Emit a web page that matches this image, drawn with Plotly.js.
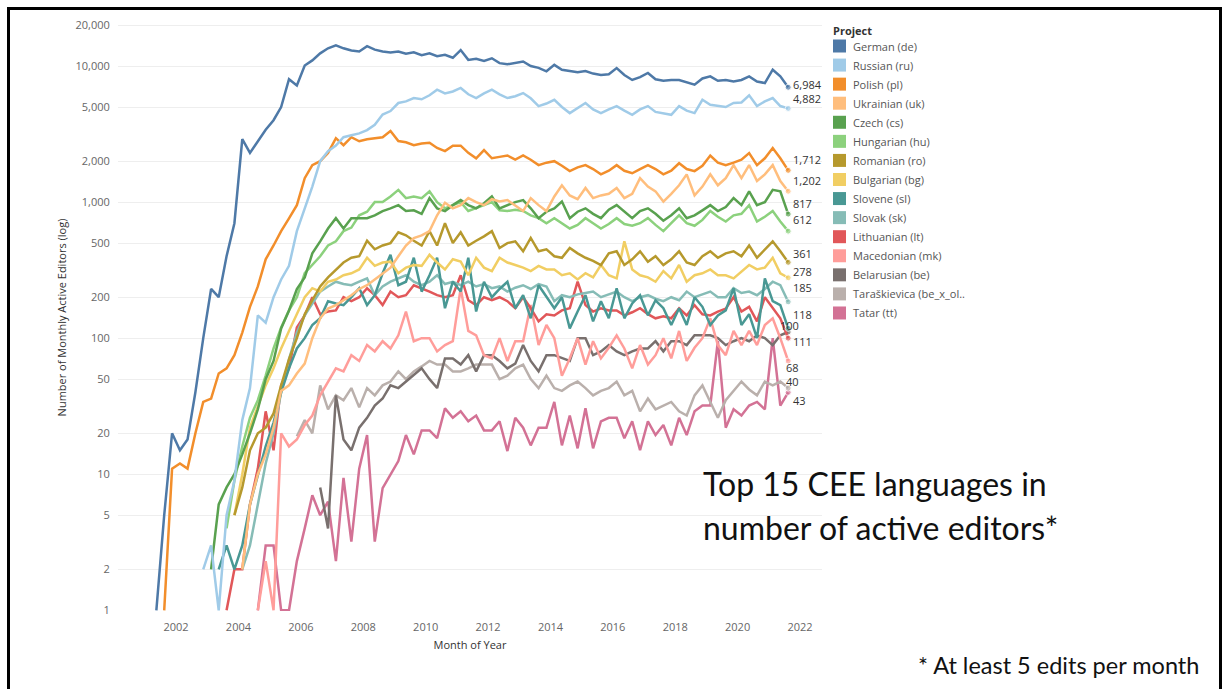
<!DOCTYPE html>
<html>
<head>
<meta charset="utf-8">
<script src="https://cdn.plot.ly/plotly-3.0.1.min.js"></script>
<style>
  html, body { margin: 0; padding: 0; background: #ffffff; }
  #chart { width: 1226px; height: 689px; }
</style>
</head>
<body>
<div id="chart"></div>
<script>
// Monthly active editors (5+ edits/month), sampled every quarter (Feb, May, Aug, Nov).
// Every series ends in August 2021; earlier points step back three months each.
const lastMonth = { year: 2021, month: 8 };

const projects = [
  'German (de)', 'Russian (ru)', 'Polish (pl)', 'Ukrainian (uk)', 'Czech (cs)',
  'Hungarian (hu)', 'Romanian (ro)', 'Bulgarian (bg)', 'Slovene (sl)', 'Slovak (sk)',
  'Lithuanian (lt)', 'Macedonian (mk)', 'Belarusian (be)', 'Taraškievica (be_x_ol..', 'Tatar (tt)'
];

const colors = [
  '#4E79A7', '#A0CBE8', '#F28E2B', '#FFBE7D', '#59A14F',
  '#8CD17D', '#B6992D', '#F1CE63', '#499894', '#86BCB6',
  '#E15759', '#FF9D9A', '#79706E', '#BAB0AC', '#D37295'
];

const germanDe = [
  1, 5, 20,
  15, 18, 40, 100,
  230, 200, 400, 700,
  2900, 2300, 2800, 3400,
  4000, 5000, 8000, 7200,
  10100, 11000, 12400, 13500,
  14200, 13500, 13000, 12800,
  14000, 13200, 12800, 12600,
  12800, 12300, 12600, 12000,
  12400, 11800, 12100, 11500,
  13100, 11100, 11300, 10900,
  11400, 10500, 10300, 10600,
  10800, 10000, 9700, 9150,
  10200, 9400, 9200, 9000,
  9200, 8800, 8600, 8700,
  9660, 8600, 7900, 8300,
  8890, 8000, 7800, 7900,
  7900, 7600, 7300, 8100,
  8400, 7800, 7900, 7700,
  7900, 8400, 7700, 7500,
  9400, 8400, 6984
];

const russianRu = [
  2,
  3, 1, 5, 9,
  25, 43, 147, 130,
  200, 270, 340, 612,
  900, 1300, 2000, 2370,
  2600, 3000, 3100, 3200,
  3380, 3700, 4400, 4670,
  5350, 5500, 5820, 5700,
  6100, 6700, 6300, 6500,
  6900, 6200, 5820, 6300,
  6700, 6200, 5820, 6000,
  6330, 5800, 5080, 5300,
  5650, 5000, 4510, 4900,
  5350, 4800, 4510, 4800,
  5080, 4700, 4380, 4800,
  5080, 4600, 4500, 4380,
  5080, 4700, 4510, 5650,
  5200, 5080, 5000, 5350,
  5400, 6100, 5080, 5500,
  5820, 5080, 4882
];

const polishPl = [
  1, 11,
  12, 11, 20, 34,
  36, 55, 60, 75,
  110, 170, 240, 380,
  480, 612, 760, 950,
  1500, 1870, 2000, 2300,
  2950, 2620, 3000, 2800,
  2900, 2950, 3000, 3330,
  2810, 2750, 2620, 2700,
  2730, 2500, 2370, 2600,
  2600, 2300, 2100, 2410,
  2100, 2150, 2200, 2050,
  2200, 2050, 1870, 1950,
  2000, 1850, 1690, 1800,
  1870, 1750, 1600, 1700,
  1870, 1700, 1630, 1750,
  1870, 1750, 1600, 1700,
  1930, 1750, 1690, 1850,
  2200, 1950, 1870, 1950,
  2050, 2290, 1870, 2100,
  2500, 2100, 1712
];

const ukrainianUk = [
  2, 6, 10, 14,
  22, 41, 45, 55,
  65, 100, 140, 165,
  175, 190, 207, 230,
  245, 270, 300, 330,
  400, 480, 545, 570,
  612, 800, 990, 900,
  950, 1070, 1000, 950,
  1050, 1010, 1035, 950,
  860, 1070, 950, 860,
  1100, 1330, 1120, 1050,
  1270, 1070, 1120, 1150,
  1270, 1070, 1150, 1500,
  1300, 1200, 1010, 1150,
  1330, 1600, 1120, 1300,
  1600, 1330, 1500, 1870,
  1500, 1870, 1430, 1600,
  1870, 1430, 1202
];

const czechCs = [
  2, 6, 8, 10,
  14, 20, 30, 50,
  68, 118, 160, 230,
  280, 420, 515, 640,
  762, 640, 762, 762,
  762, 800, 860, 900,
  950, 860, 870, 820,
  1070, 900, 860, 950,
  1035, 950, 900, 980,
  1100, 900, 950, 1000,
  1035, 900, 762, 850,
  900, 1010, 762, 850,
  900, 820, 762, 880,
  950, 850, 762, 860,
  900, 820, 730, 800,
  900, 762, 800, 870,
  950, 860, 920, 1070,
  950, 1200, 950, 1000,
  1230, 1200, 817
];

const hungarianHu = [
  4, 9,
  16, 26, 35, 53,
  84, 120, 160, 200,
  300, 345, 400, 480,
  515, 612, 650, 800,
  850, 1000, 1000, 1100,
  1230, 1070, 1100, 1070,
  1200, 1000, 900, 950,
  1000, 860, 900, 950,
  1000, 870, 860, 880,
  860, 800, 762, 700,
  762, 700, 640, 680,
  762, 700, 640, 690,
  762, 690, 670, 700,
  762, 680, 612, 700,
  800, 700, 670, 740,
  860, 780, 720, 800,
  820, 950, 720, 780,
  860, 720, 612
];

const romanianRo = [
  5,
  8, 15, 20, 22,
  28, 45, 70, 100,
  150, 190, 240, 280,
  320, 360, 390, 400,
  520, 450, 480, 500,
  600, 570, 520, 480,
  612, 480, 700, 500,
  600, 480, 520, 560,
  612, 460, 500, 515,
  435, 545, 435, 450,
  400, 390, 460, 420,
  390, 370, 345, 420,
  435, 345, 380, 435,
  365, 400, 345, 380,
  435, 360, 345, 400,
  435, 390, 420, 435,
  400, 480, 390, 450,
  515, 435, 361
];

const bulgarianBg = [
  5,
  10, 22, 32, 45,
  60, 84, 113, 150,
  200, 233, 220, 260,
  270, 290, 300, 320,
  390, 340, 360, 365,
  300, 330, 345, 340,
  410, 360, 320, 380,
  365, 290, 390, 330,
  311, 390, 360, 345,
  330, 311, 340, 320,
  320, 290, 300, 270,
  300, 280, 345, 290,
  275, 515, 320, 290,
  280, 260, 311, 275,
  345, 260, 290, 300,
  320, 290, 290, 275,
  310, 345, 320, 330,
  390, 300, 278
];

const sloveneSl = [
  2, 3, 2,
  3, 6, 10, 16,
  24, 40, 60, 84,
  100, 125, 140, 187,
  180, 175, 200, 233,
  175, 207, 300, 410,
  245, 260, 390, 220,
  290, 390, 166, 260,
  220, 390, 157, 260,
  200, 230, 260, 166,
  207, 140, 245, 200,
  166, 200, 118, 157,
  207, 133, 187, 140,
  233, 140, 180, 207,
  147, 190, 166, 125,
  166, 125, 200, 170,
  125, 147, 160, 233,
  125, 150, 100, 275,
  187, 175, 118
];

const slovakSk = [
  2, 3, 6, 12,
  20, 40, 70, 110,
  147, 180, 220, 240,
  260, 250, 245, 260,
  275, 207, 240, 260,
  275, 290, 260, 245,
  260, 290, 250, 260,
  245, 260, 240, 250,
  233, 240, 220, 235,
  245, 230, 250, 240,
  187, 207, 200, 210,
  215, 220, 200, 210,
  220, 200, 187, 200,
  207, 195, 187, 200,
  190, 220, 200, 210,
  220, 200, 200, 233,
  215, 220, 207, 230,
  260, 245, 185
];

const lithuanianLt = [
  1, 2,
  2, 6, 11, 29,
  15, 45, 60, 120,
  147, 200, 150, 157,
  160, 200, 187, 200,
  233, 207, 175, 220,
  200, 207, 245, 233,
  220, 207, 200, 207,
  290, 190, 175, 200,
  190, 200, 187, 166,
  200, 166, 133, 150,
  147, 160, 166, 260,
  175, 157, 166, 160,
  160, 147, 155, 166,
  150, 140, 145, 140,
  166, 147, 175, 150,
  147, 157, 165, 200,
  157, 170, 133, 200,
  166, 140, 100
];

const macedonianMk = [
  1, 2.3,
  1, 20, 16, 18,
  23, 27, 38, 48,
  60, 57, 75, 68,
  89, 80, 95, 84,
  105, 157, 95, 100,
  100, 80, 89, 95,
  233, 113, 105, 75,
  71, 100, 68, 95,
  95, 175, 89, 125,
  100, 53, 71, 100,
  64, 95, 71, 85,
  105, 84, 60, 89,
  64, 75, 100, 71,
  113, 68, 85, 100,
  140, 89, 75, 113,
  89, 113, 89, 125,
  140, 100, 68
];

const belarusianBe = [
  8, 4,
  38, 18, 15, 22,
  26, 32, 36, 45,
  43, 48, 53, 60,
  50, 43, 71, 71,
  64, 75, 57, 75,
  75, 68, 60, 65,
  89, 68, 57, 75,
  75, 71, 68, 100,
  100, 75, 80, 89,
  80, 75, 80, 84,
  84, 95, 80, 95,
  95, 89, 105, 105,
  105, 100, 89, 95,
  100, 95, 105, 100,
  89, 105, 111
];

const taraskievicaBeXOld = [
  19,
  25, 20, 45, 30,
  38, 35, 43, 31,
  43, 38, 45, 48,
  57, 50, 57, 62,
  68, 64, 64, 57,
  57, 60, 64, 64,
  64, 50, 53, 60,
  64, 50, 43, 53,
  43, 41, 45, 48,
  43, 38, 41, 43,
  48, 38, 41, 29,
  36, 30, 32, 34,
  29, 27, 38, 45,
  34, 26, 35, 41,
  48, 42, 38, 48,
  45, 48, 43
];

const tatarTt = [
  1, 3,
  3, 1, 1, 2.3,
  4, 7, 5, 6.3,
  2.3, 9.4, 3.2, 11,
  19.4, 3.2, 7.9, 10,
  12.5, 19.4, 14, 21,
  21, 18.4, 30.5, 26,
  29, 24.5, 27, 21,
  21, 24.5, 14.8, 26,
  22, 16.3, 22, 22,
  34, 16.3, 27, 15.5,
  30.5, 15.5, 24.5, 26,
  26, 18.4, 24.5, 15,
  24.5, 19.4, 23, 16.3,
  26, 19.4, 29, 32,
  32, 95, 22, 30,
  27, 32, 34, 30,
  100, 32, 40
];

const seriesValues = [
  germanDe, russianRu, polishPl, ukrainianUk, czechCs,
  hungarianHu, romanianRo, bulgarianBg, sloveneSl, slovakSk,
  lithuanianLt, macedonianMk, belarusianBe, taraskievicaBeXOld, tatarTt
];

// Axis ticks
const yTickValues = [1, 2, 5, 10, 20, 50, 100, 200, 500, 1000, 2000, 5000, 10000, 20000];
const yTickText = ['1', '2', '5', '10', '20', '50', '100', '200', '500', '1,000', '2,000', '5,000', '10,000', '20,000'];
const xTickYears = [2002, 2004, 2006, 2008, 2010, 2012, 2014, 2016, 2018, 2020, 2022];

// End-label nudges in pixels [dx, dy] so neighbouring labels stay readable
const labelNudge = [
  [3, 3], [3, 10], [3, 11], [3, 11], [3, 11],
  [3, 12], [3, 9], [3, 6], [3, 14], [3, 14],
  [-10, 13], [-4, -7], [3, -9], [3, -12], [-4, 11]
];

// Quarterly month stamps counted back from the final month
function quarterStamps(n) {
  const out = [];
  for (let i = 0; i < n; i++) {
    const back = (n - 1 - i) * 3;
    const total = lastMonth.year * 12 + (lastMonth.month - 1) - back;
    const y = Math.floor(total / 12);
    const m = total % 12 + 1;
    out.push(y + '-' + String(m).padStart(2, '0') + '-15');
  }
  return out;
}

// Page geometry (pixels) of the plotting area
const W = 1226, H = 689;
const M = { l: 118, r: 404, t: 24, b: 78 };
const PW = W - M.l - M.r, PH = H - M.t - M.b;
const px = x => (x - M.l) / PW;
const py = y => (H - M.b - y) / PH;

const FONT = 'Open Sans, Lato, sans-serif';
const SLIDE_FONT = 'Lato, Open Sans, sans-serif';

const traces = [];
const annotations = [];
const shapes = [];

// Draw later legend entries first so the larger languages sit on top
for (let k = projects.length - 1; k >= 0; k--) {
  const vals = seriesValues[k];
  const dates = quarterStamps(vals.length);
  traces.push({
    type: 'scatter',
    mode: 'lines+markers',
    name: projects[k],
    x: dates,
    y: vals,
    line: { color: colors[k], width: 2.5 },
    marker: { color: colors[k], size: vals.map((v, i) => (i === vals.length - 1 ? 6 : 0)) },
    showlegend: false,
    hoverinfo: 'skip'
  });
}

// Value labels at the end of each line
projects.forEach((p, k) => {
  const vals = seriesValues[k];
  const dates = quarterStamps(vals.length);
  const last = vals[vals.length - 1];
  annotations.push({
    x: dates[dates.length - 1],
    y: Math.log10(last),
    xref: 'x', yref: 'y',
    text: last.toLocaleString('en-US'),
    showarrow: false,
    xanchor: 'left', yanchor: 'middle',
    xshift: labelNudge[k][0], yshift: labelNudge[k][1],
    font: { family: FONT, size: 11, color: '#333333' }
  });
});

// Colour legend drawn as swatches with labels
annotations.push({
  x: px(831), y: py(30), xref: 'paper', yref: 'paper',
  text: '<b>Project</b>', showarrow: false, xanchor: 'left', yanchor: 'middle',
  font: { family: FONT, size: 11, color: '#333333' }
});
projects.forEach((p, k) => {
  const cy = 46 + k * 19.07;
  shapes.push({
    type: 'rect', xref: 'paper', yref: 'paper',
    x0: px(833), x1: px(846), y0: py(cy - 6.5), y1: py(cy + 6.5),
    fillcolor: colors[k], line: { width: 0 }
  });
  annotations.push({
    x: px(851), y: py(cy), xref: 'paper', yref: 'paper',
    text: p, showarrow: false, xanchor: 'left', yanchor: 'middle',
    font: { family: FONT, size: 11, color: '#555555' }
  });
});

// Headline and footnote
annotations.push({
  x: px(701), y: py(484), xref: 'paper', yref: 'paper',
  text: 'Top 15 CEE languages in', showarrow: false, xanchor: 'left', yanchor: 'middle',
  font: { family: SLIDE_FONT, size: 32, color: '#111111' }
});
annotations.push({
  x: px(701), y: py(527), xref: 'paper', yref: 'paper',
  text: 'number of active editors*', showarrow: false, xanchor: 'left', yanchor: 'middle',
  font: { family: SLIDE_FONT, size: 32, color: '#111111' }
});
annotations.push({
  x: px(916), y: py(665), xref: 'paper', yref: 'paper',
  text: '* At least 5 edits per month', showarrow: false, xanchor: 'left', yanchor: 'middle',
  font: { family: SLIDE_FONT, size: 23.5, color: '#111111' }
});

// Black frame around the slide
shapes.push({
  type: 'rect', xref: 'paper', yref: 'paper',
  x0: px(8.5), x1: px(1220.5), y0: py(720), y1: py(8.5),
  line: { color: '#000000', width: 3 }, fillcolor: 'rgba(0,0,0,0)'
});

const layout = {
  width: W, height: H,
  margin: M,
  paper_bgcolor: '#ffffff',
  plot_bgcolor: '#ffffff',
  showlegend: false,
  xaxis: {
    type: 'date',
    range: ['2000-02-21', '2022-09-15'],
    tickvals: xTickYears.map(y => y + '-01-01'),
    ticktext: xTickYears.map(String),
    showgrid: false, zeroline: false, showline: false,
    ticks: 'outside', ticklen: 6, tickcolor: 'rgba(0,0,0,0)',
    tickfont: { family: FONT, size: 11, color: '#666666' },
    title: { text: 'Month of Year', font: { family: FONT, size: 11, color: '#333333' }, standoff: 8 }
  },
  yaxis: {
    type: 'log',
    range: [-0.005, 4.309],
    tickvals: yTickValues,
    ticktext: yTickText,
    showgrid: true, gridcolor: '#eeeeee', gridwidth: 1,
    zeroline: false, showline: false,
    ticks: 'outside', ticklen: 5, tickcolor: 'rgba(0,0,0,0)',
    tickfont: { family: FONT, size: 11, color: '#666666' },
    title: { text: 'Number of Monthly Active Editors (log)', font: { family: FONT, size: 11, color: '#333333' }, standoff: 6 }
  },
  annotations: annotations,
  shapes: shapes
};

Plotly.newPlot('chart', traces, layout, { staticPlot: true, displayModeBar: false });
</script>
</body>
</html>
